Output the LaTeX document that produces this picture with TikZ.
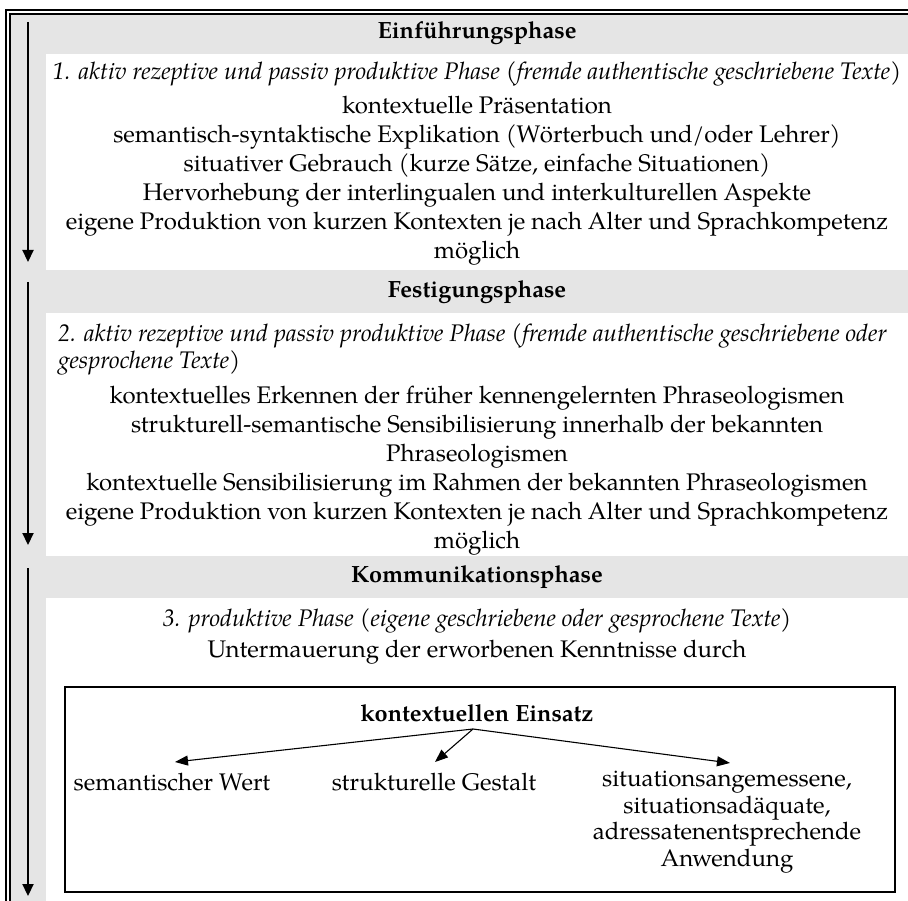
\documentclass[tikz,border=0pt]{standalone}
\usepackage{fontspec}
\setmainfont{texgyrepagella}[Extension=.otf, UprightFont=*-regular, BoldFont=*-bold, ItalicFont=*-italic, BoldItalicFont=*-bolditalic]
\usetikzlibrary{arrows.meta}
\definecolor{bandgray}{HTML}{E5E5E5}
\tikzset{
  body/.style={font=\fontsize{24}{29}\selectfont, align=center, inner sep=0pt},
  boxbody/.style={font=\fontsize{24}{26.5}\selectfont, align=center, inner sep=0pt},
  head/.style={font=\fontsize{23.5}{27}\selectfont\bfseries, inner sep=0pt},
  ital/.style={font=\fontsize{24}{27}\selectfont\itshape, inner sep=0pt},
  phasearrow/.style={line width=2.2pt, -{Triangle[length=12pt,width=11pt]}},
  subarrow/.style={line width=1.1pt, -{Triangle[length=13pt,width=10pt]}},
  frameline/.style={line width=1.1pt},
}
\begin{document}
\begin{tikzpicture}[x=1pt,y=-1pt]
\useasboundingbox (0,0) rectangle (908,901);
% background bands
\fill[bandgray] (10,14) rectangle (908,901);
\fill[white] (46,54) rectangle (908,270);
\fill[white] (46,313) rectangle (908,556);
\fill[white] (46,598) rectangle (908,901);
% double frame
\draw[frameline] (6,901) -- (6,10) -- (908,10);
\draw[frameline] (10,901) -- (10,14) -- (908,14);

% phase 1
\node[head] (h1) at (477,33) {Einführungsphase};
\node[ital] (i1) at (477,74) {1. aktiv rezeptive und passiv produktive Phase (fremde authentische geschriebene Texte)};
\node[body] (b1) at (477,181) {kontextuelle Präsentation\\
semantisch-syntaktische Explikation (Wörterbuch und/oder Lehrer)\\
situativer Gebrauch (kurze Sätze, einfache Situationen)\\
Hervorhebung der interlingualen und interkulturellen Aspekte\\
eigene Produktion von kurzen Kontexten je nach Alter und Sprachkompetenz\\
möglich};
\coordinate (a1s) at (28,22);
\coordinate (a1e) at (28,262);
\draw[phasearrow] (a1s) -- (a1e);

% phase 2
\node[head] (h2) at (477,292) {Festigungsphase};
\node[ital, anchor=north west, align=left] (i2) at (58,323) {2. aktiv rezeptive und passiv produktive Phase (fremde authentische geschriebene oder\\
gesprochene Texte)};
\node[body] (b2) at (477,471) {kontextuelles Erkennen der früher kennengelernten Phraseologismen\\
strukturell-semantische Sensibilisierung innerhalb der bekannten\\
Phraseologismen\\
kontextuelle Sensibilisierung im Rahmen der bekannten Phraseologismen\\
eigene Produktion von kurzen Kontexten je nach Alter und Sprachkompetenz\\
möglich};
\coordinate (a2s) at (28,282);
\coordinate (a2e) at (28,545);
\draw[phasearrow] (a2s) -- (a2e);

% phase 3
\node[head] (h3) at (477,577) {Kommunikationsphase};
\node[ital] (i3) at (477,621) {3. produktive Phase (eigene geschriebene oder gesprochene Texte)};
\node[body] (u3) at (477,652) {Untermauerung der erworbenen Kenntnisse durch};
\coordinate (a3s) at (28,568);
\coordinate (a3e) at (28,896);
\draw[phasearrow] (a3s) -- (a3e);

% inner box
\node[draw, line width=1.8pt, minimum width=830pt, minimum height=205pt, inner sep=0pt] (box) at (480,789.5) {};
\node[head, inner sep=3pt] (ke) at (477,713) {kontextuellen Einsatz};
\coordinate (kb) at (473,729);
\coordinate (t1) at (175,762);
\coordinate (t2) at (435,762);
\coordinate (t3) at (730,763);
\node[boxbody] (sw) at (172,782) {semantischer Wert};
\node[boxbody] (sg) at (434,782) {strukturelle Gestalt};
\node[boxbody, anchor=north] (sa) at (727,771) {situationsangemessene,\\
situationsadäquate,\\
adressatenentsprechende\\
Anwendung};
\draw[subarrow] (kb) -- (t1);
\draw[subarrow] (kb) -- (t2);
\draw[subarrow] (kb) -- (t3);
\end{tikzpicture}
\end{document}
